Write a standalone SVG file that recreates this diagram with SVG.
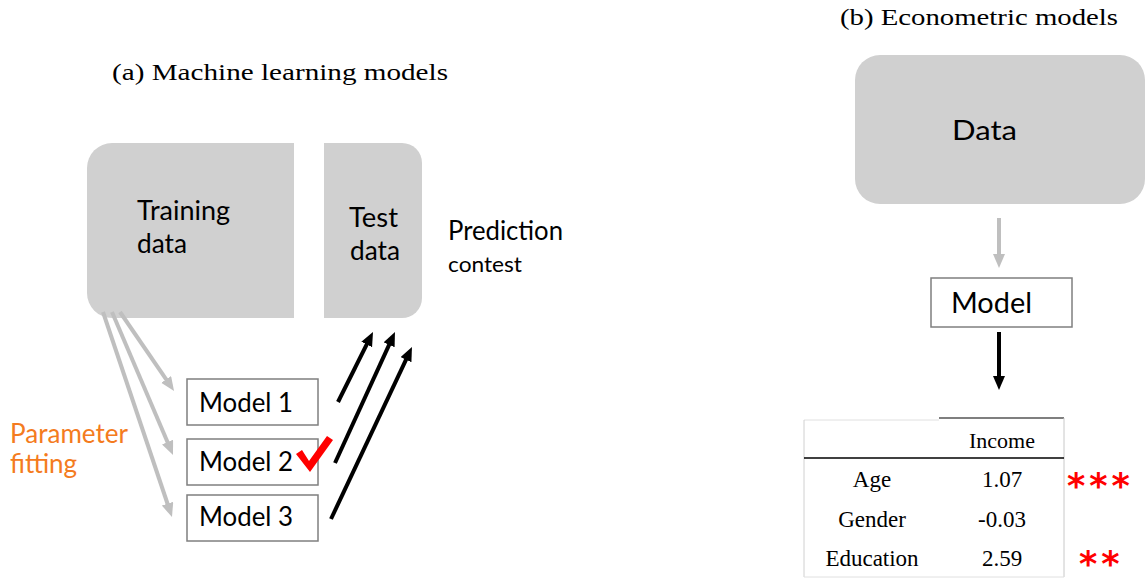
<svg xmlns="http://www.w3.org/2000/svg" width="1145" height="578" viewBox="0 0 1145 578">
<defs>
<style>
.cal{font-family:Lato,"Open Sans","Liberation Sans",sans-serif;fill:#000}
.ser{font-family:"Liberation Serif","DejaVu Serif",serif;fill:#000}
.data{fill:#d0d0d0}
.box{fill:#fff;stroke:#7f7f7f;stroke-width:1.5}
.ga{stroke:#bfbfbf;stroke-width:4;fill:none}
.ba{stroke:#000;stroke-width:4;fill:none}
.star{font-family:"DejaVu Sans","Liberation Sans",sans-serif;font-weight:bold;fill:#ff0000}
</style>
<marker id="mg" markerUnits="userSpaceOnUse" markerWidth="16" markerHeight="14" refX="4" refY="6" orient="auto">
<path d="M0,0 L14,6 L0,12 z" fill="#bfbfbf"/>
</marker>
<marker id="mb" markerUnits="userSpaceOnUse" markerWidth="16" markerHeight="14" refX="4" refY="6" orient="auto">
<path d="M0,0 L14,6 L0,12 z" fill="#000"/>
</marker>
</defs>
<rect width="1145" height="578" fill="#fff"/>

<text class="ser" x="112" y="80" font-size="23" textLength="336" lengthAdjust="spacingAndGlyphs">(a) Machine learning models</text>
<text class="ser" x="840" y="25" font-size="23" textLength="278" lengthAdjust="spacingAndGlyphs">(b) Econometric models</text>

<g id="training-data">
<path class="data" d="M112,143 H294 V318 H112 A25,25 0 0 1 87,293 V168 A25,25 0 0 1 112,143 Z"/>
<text class="cal" x="137" y="220" font-size="26" textLength="93" lengthAdjust="spacingAndGlyphs">Training</text>
<text class="cal" x="137" y="253" font-size="26" textLength="50" lengthAdjust="spacingAndGlyphs">data</text>
</g>
<g id="test-data">
<path class="data" d="M324,143 H402 A20,20 0 0 1 422,163 V298 A20,20 0 0 1 402,318 H324 Z"/>
<text class="cal" x="349" y="227" font-size="26" textLength="49" lengthAdjust="spacingAndGlyphs">Test</text>
<text class="cal" x="350" y="260" font-size="26" textLength="50" lengthAdjust="spacingAndGlyphs">data</text>
</g>
<g id="prediction-contest">
<text class="cal" x="448" y="240" font-size="26" textLength="115" lengthAdjust="spacingAndGlyphs">Prediction</text>
<text class="cal" x="448" y="272" font-size="22" textLength="74" lengthAdjust="spacingAndGlyphs">contest</text>
</g>
<g id="parameter-fitting">
<text class="cal" x="10" y="443" font-size="26" style="fill:#f47b20" textLength="118" lengthAdjust="spacingAndGlyphs">Parameter</text>
<text class="cal" x="10" y="473" font-size="26" style="fill:#f47b20">fitting</text>
</g>
<g id="model-1">
<rect class="box" x="187" y="379" width="131" height="46"/>
<text class="cal" x="199" y="412" font-size="26" textLength="94" lengthAdjust="spacingAndGlyphs">Model 1</text>
</g>
<g id="model-2">
<rect class="box" x="187" y="439" width="131" height="46"/>
<text class="cal" x="199" y="471" font-size="26" textLength="94" lengthAdjust="spacingAndGlyphs">Model 2</text>
<path d="M296,454 L302,450 L309,461 L327,436 L333,440 L310,472 Z" fill="#ff0000"/>
</g>
<g id="model-3">
<rect class="box" x="187" y="495" width="131" height="46"/>
<text class="cal" x="199" y="526" font-size="26" textLength="94" lengthAdjust="spacingAndGlyphs">Model 3</text>
</g>

<g id="data">
<rect class="data" x="855" y="55" width="290" height="149" rx="25"/>
<text class="cal" x="952" y="140" font-size="26" textLength="65" lengthAdjust="spacingAndGlyphs">Data</text>
</g>
<g id="model">
<rect class="box" x="931" y="278" width="141" height="49"/>
<text class="cal" x="951" y="313" font-size="28" textLength="81" lengthAdjust="spacingAndGlyphs">Model</text>
</g>

<g id="connectors">
<line class="ga" x1="120" y1="312" x2="168.4" y2="382.7" marker-end="url(#mg)"/>
<line class="ga" x1="112" y1="312" x2="169.1" y2="445.8" marker-end="url(#mg)"/>
<line class="ga" x1="103" y1="312" x2="168.8" y2="507.5" marker-end="url(#mg)"/>
<line class="ba" x1="338" y1="402" x2="368.5" y2="340.9" marker-end="url(#mb)"/>
<line class="ba" x1="335" y1="463" x2="390.8" y2="341.1" marker-end="url(#mb)"/>
<line class="ba" x1="331" y1="519" x2="407.7" y2="356.1" marker-end="url(#mb)"/>
<line class="ga" x1="999" y1="218" x2="999" y2="258" marker-end="url(#mg)"/>
<line class="ba" x1="999" y1="332" x2="999" y2="380" marker-end="url(#mb)"/>
</g>

<g id="results-table">
<line x1="804" y1="420" x2="939" y2="420" stroke="#e0e0e0" stroke-width="1"/>
<line x1="939" y1="418" x2="1064" y2="418" stroke="#555" stroke-width="1.5"/>
<line x1="804" y1="420" x2="804" y2="577" stroke="#d0d0d0" stroke-width="1"/>
<line x1="1064" y1="418" x2="1064" y2="577" stroke="#c8c8c8" stroke-width="1"/>
<line x1="804" y1="577" x2="1064" y2="577" stroke="#e0e0e0" stroke-width="1"/>
<line x1="804" y1="458" x2="1064" y2="458" stroke="#000" stroke-width="1.5"/>
<text class="ser" x="1002" y="448" font-size="22" text-anchor="middle">Income</text>
<text class="ser" x="872" y="487" font-size="23" text-anchor="middle">Age</text>
<text class="ser" x="1002" y="487" font-size="23" text-anchor="middle">1.07</text>
<text class="ser" x="872" y="527" font-size="23" text-anchor="middle">Gender</text>
<text class="ser" x="1002" y="527" font-size="23" text-anchor="middle">-0.03</text>
<text class="ser" x="872" y="566" font-size="23" text-anchor="middle">Education</text>
<text class="ser" x="1002" y="566" font-size="23" text-anchor="middle">2.59</text>
<text class="star" x="1067" y="498" font-size="35" letter-spacing="4">***</text>
<text class="star" x="1079" y="576" font-size="35" letter-spacing="4">**</text>
</g>
</svg>
